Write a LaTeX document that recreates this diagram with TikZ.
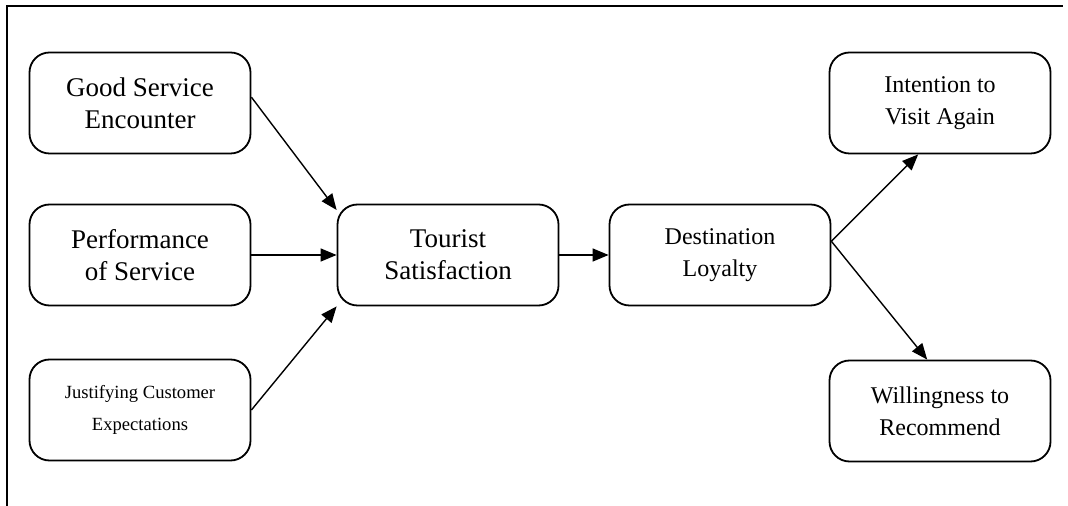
\documentclass[tikz,border=0pt]{standalone}
\usepackage{fontspec}
\setmainfont{Liberation Serif}
\usetikzlibrary{arrows.meta}

\begin{document}
\begin{tikzpicture}[x=0.5pt,y=-0.5pt,
  box/.style={draw,line width=0.9pt,rounded corners=10pt,minimum width=110.5pt,minimum height=50.5pt,align=center,inner sep=2pt},
  big/.style={font=\fontsize{13.5}{16}\selectfont},
  mid/.style={font=\fontsize{12}{16}\selectfont},
  small/.style={font=\fontsize{9.3}{16}\selectfont},
  link/.style={-{Triangle[length=8pt,width=6.5pt]},line width=0.7pt}]
\useasboundingbox (0,0) rectangle (1068,506);
\draw[line width=1pt] (7,506) -- (7,6) -- (1063,6);

\node[box,big] (gse) at (140,103) {Good Service\\Encounter};
\node[box,big] (ps) at (140,255) {Performance\\of Service};
\node[box,small] (jce) at (140,410) {Justifying Customer\\Expectations};
\node[box,big] (ts) at (448,255) {Tourist\\Satisfaction};
\node[box,mid] (dl) at (720,255) {Destination\\Loyalty};
\node[box,mid] (iva) at (940,103) {Intention to\\Visit Again};
\node[box,mid] (wr) at (940,411) {Willingness to\\Recommend};

\draw[link] (gse.3) -- (ts.158);
\draw[link] (ps.east) -- (ts.west);
\draw[link] (jce.east) -- (ts.south west);
\draw[link] (ts.east) -- (dl.west);
\draw[link] (dl.7) -- (iva.247);
\draw[link] (dl.7) -- (wr.104);
\end{tikzpicture}
\end{document}
